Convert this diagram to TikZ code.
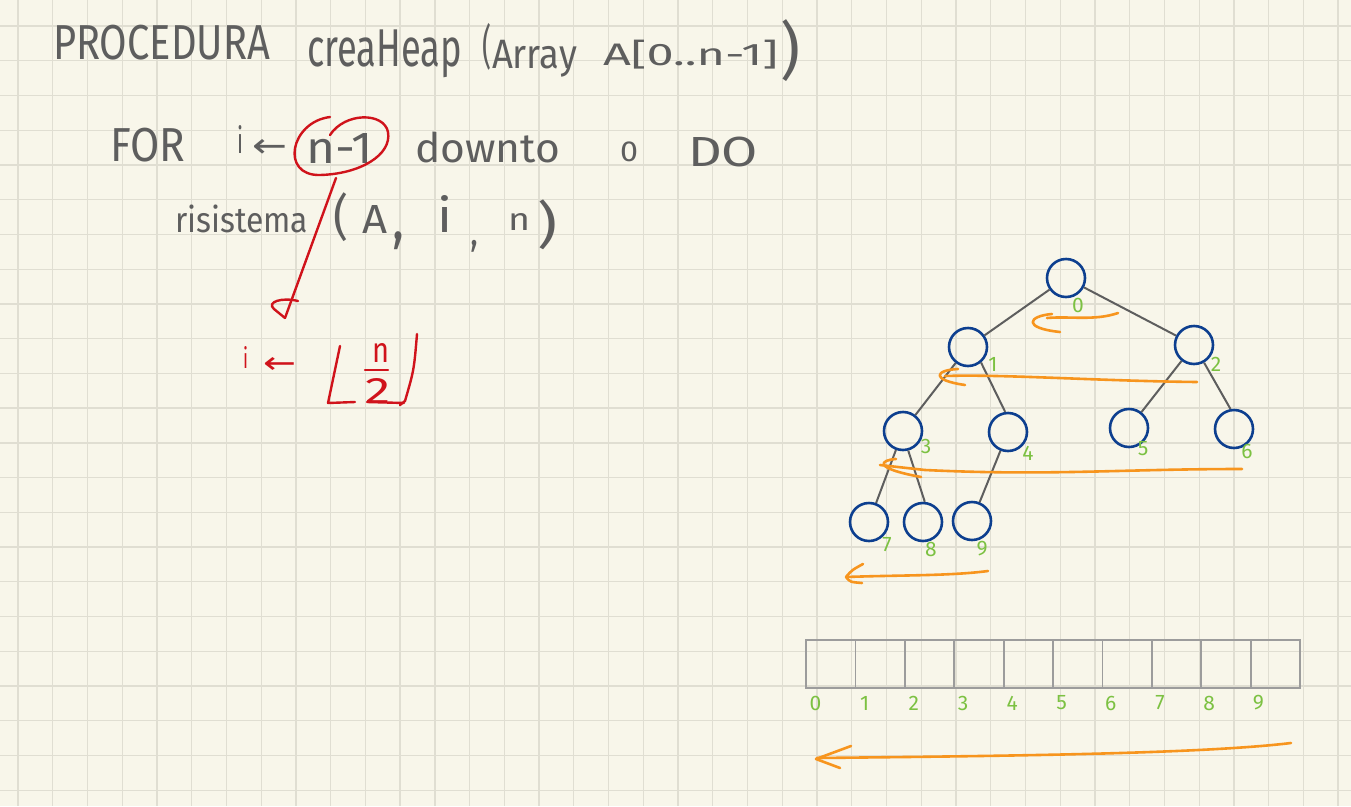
\documentclass[tikz,border=0pt]{standalone}
\usepackage{fontspec}
\setmainfont{Fira Sans}
\newfontfamily\arrowfont{DejaVu Sans}
\usepackage{graphicx}
\definecolor{paper}{HTML}{F8F6EA}
\definecolor{gridc}{HTML}{E0DED2}
\definecolor{ink}{HTML}{5E5E5E}
\definecolor{redink}{HTML}{D0131B}
\definecolor{blueink}{HTML}{0D3F8F}
\definecolor{greenink}{HTML}{7CC142}
\definecolor{orangeink}{HTML}{F7951E}
\definecolor{cellc}{HTML}{9C9C9C}
\newcommand{\hw}[3]{\resizebox*{#1pt}{#2pt}{#3}}
\begin{document}
\begin{tikzpicture}[x=1pt,y=-1pt,
  hand/.style={anchor=north west, inner sep=0pt, outer sep=0pt},
  gray/.style={hand, text=ink},
  red/.style={hand, text=redink},
  tnode/.style={circle, draw=blueink, line width=2.6pt, minimum size=38pt, inner sep=0pt},
  tedge/.style={draw=ink, line width=2pt},
  lab/.style={text=greenink, font=\fontsize{21}{21}\selectfont, inner sep=0pt},
  cell/.style={draw=cellc, line width=1.8pt, minimum width=49.4pt, minimum height=48.3pt, inner sep=0pt, outer sep=0pt, anchor=north west},
  orangepen/.style={draw=orangeink, line width=2.6pt, line cap=round, line join=round},
  redpen/.style={draw=redink, line width=2.4pt, line cap=round, line join=round},
]
\useasboundingbox (0,0) rectangle (1351,806);
\fill[paper] (0,0) rectangle (1351,806);
\foreach \k in {0,...,38} { \draw[gridc, line width=1.3pt] ({18+34.74*\k},0) -- ({18+34.74*\k},806); }
\foreach \k in {0,...,22} { \draw[gridc, line width=1.3pt] (0,{26+34.74*\k}) -- (1351,{26+34.74*\k}); }

% title
\node[gray] (t1) at (53,25) {\hw{217}{35}{PROCEDURA}};
\node[gray] (t2) at (307,30) {\hw{155}{48}{creaHeap}};
\node[gray] (t3) at (482,23) {\hw{9}{47}{(}};
\node[gray] (t4) at (492,40) {\hw{85}{37}{Array}};
\node[gray] (t5) at (603,40) {\hw{175}{29}{A[0..n-1]}};
\node[gray] (t6) at (780,20) {\hw{20}{62}{)}};

% FOR line
\node[gray] (f1) at (110,128) {\hw{75}{34}{FOR}};
\node[gray] (f2) at (237,125) {\hw{6}{28}{i}};
\node[gray] (f3) at (252,139) {\hw{35}{18}{\arrowfont ←}};
\node[gray] (f4) at (306,133) {\hw{67}{30}{n-1}};
\node[gray] (f5) at (415,132) {\hw{145}{31}{downto}};
\node[gray] (f6) at (620,142) {\hw{18}{20}{0}};
\node[gray] (f7) at (688,137) {\hw{70}{30}{DO}};

% risistema line
\node[gray] (r1) at (175,205) {\hw{133}{28}{risistema}};
\node[gray] (r2) at (333,193) {\hw{15}{49}{(}};
\node[gray] (r3) at (362,205) {\hw{25}{28}{A}};
\node[gray] (r4) at (392,232) {\hw{12}{18}{,}};
\node[gray] (r5) at (437,195) {\hw{15}{37}{i}};
\node[gray] (r6) at (470,240) {\hw{8}{12}{,}};
\node[gray] (r7) at (508,213) {\hw{22}{17}{n}};
\node[gray] (r8) at (537,200) {\hw{20}{50}{)}};

% red annotations
\draw[redpen] (330,117) .. controls (290,122) and (280,176) .. (320,175)
  .. controls (360,174) and (392,155) .. (388,132)
  .. controls (384,112) and (345,112) .. (330,135);
\coordinate (ellbot) at (336,178);
\coordinate (redtip) at (285,318);
\draw[redpen] (ellbot) -- (redtip);
\draw[redpen] (redtip) -- (274,309) .. controls (266,302) and (282,297) .. (298,301);
\node[red] (i1) at (243,346) {\hw{5}{22}{i}};
\node[red] (i2) at (263,357) {\hw{33}{16}{\arrowfont ←}};
\draw[redpen] (340,346) -- (328,403) -- (355,402);
\draw[redpen] (367,402) -- (404,403);
\draw[redpen] (417,334) .. controls (414,370) .. (405,401) -- (400,405);
\draw[redpen] (365,370) -- (388,370);
\node[red] (fn) at (372,343) {\hw{17}{19}{n}};
\node[red] (f2d) at (365,378) {\hw{25}{25}{2}};

% tree
\node[tnode] (n0) at (1066,278) {};
\node[tnode] (n1) at (968,347) {};
\node[tnode] (n2) at (1194,345) {};
\node[tnode] (n3) at (903,431) {};
\node[tnode] (n4) at (1008,432) {};
\node[tnode] (n5) at (1129,428) {};
\node[tnode] (n6) at (1234,429) {};
\node[tnode] (n7) at (869,522) {};
\node[tnode] (n8) at (923,522) {};
\node[tnode] (n9) at (972,521) {};
\draw[tedge] (n0) -- (n1);
\draw[tedge] (n0) -- (n2);
\draw[tedge] (n1) -- (n3);
\draw[tedge] (n1.-50) -- (n4.98);
\draw[tedge] (n2) -- (n5);
\draw[tedge] (n2) -- (n6.100);
\draw[tedge] (n3) -- (n7);
\draw[tedge] (n3.-75) -- (n8.85);
\draw[tedge] (n4) -- (n9);

\node[lab] (l0) at (1078,305) {0};
\node[lab] (l1) at (993,364) {1};
\node[lab] (l2) at (1216,364) {2};
\node[lab] (l3) at (926,446) {3};
\node[lab] (l4) at (1028,453) {4};
\node[lab] (l5) at (1143,449) {5};
\node[lab] (l6) at (1247,451) {6};
\node[lab] (l7) at (887,545) {7};
\node[lab] (l8) at (931,549) {8};
\node[lab] (l9) at (982,549) {9};

% orange level arrows
\draw[orangepen] (1118,313) .. controls (1095,321) and (1070,316) .. (1047,318);
\draw[orangepen] (1052,314) .. controls (1028,316) and (1022,328) .. (1060,332);
\draw[orangepen] (1197,382) .. controls (1100,381) and (1000,374) .. (945,376);
\draw[orangepen] (958,369) .. controls (935,370) and (930,380) .. (965,385);
\draw[orangepen] (1242,469) .. controls (1120,469) and (1050,476) .. (925,470) -- (880,465);
\draw[orangepen] (896,459) .. controls (880,460) and (872,468) .. (921,477);
\draw[orangepen] (988,571) .. controls (950,576) and (900,575) .. (846,577);
\draw[orangepen] (863,564) .. controls (852,570) .. (846,577) .. controls (850,582) .. (862,583);

% array
\foreach \k in {0,...,9} {
  \node[cell] (c\k) at ({806+49.4*\k},640) {};
  \node[lab] (a\k) at ({815.5+49.2*\k},703) {\k};
}
\draw[orangepen] (1291,743) .. controls (1200,754) and (1000,756) .. (817,758);
\draw[orangepen] (851,746) -- (816,759) -- (840,768);
\end{tikzpicture}
\end{document}
